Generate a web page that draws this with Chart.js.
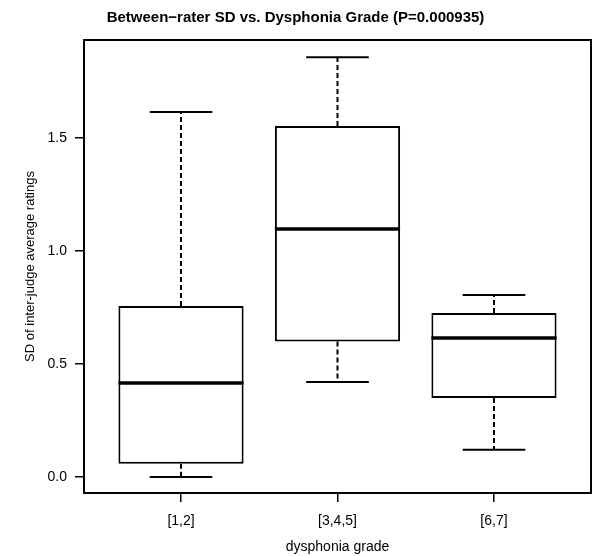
<!DOCTYPE html>
<html>
<head>
<meta charset="utf-8">
<script src="https://cdn.jsdelivr.net/npm/chart.js@4/dist/chart.umd.min.js"></script>
<style>
  html, body { margin: 0; padding: 0; background: #fff; }
  canvas { display: block; }
</style>
</head>
<body>
<canvas id="boxChart" width="592" height="556"></canvas>
<script>
// dữ liệu (5 số của mỗi box)
var categories = ['[1,2]', '[3,4,5]', '[6,7]'];
var xPositions = [1, 2, 3];
var whiskerLow = [0.00, 0.42, 0.12];
var q1 = [0.058, 0.60, 0.35];
var median = [0.416, 1.097, 0.615];
var q3 = [0.757, 1.553, 0.726];
var whiskerHigh = [1.615, 1.858, 0.805];
var yTicks = [0, 0.5, 1.0, 1.5];

Chart.defaults.font.family = '"Liberation Sans", Arial, sans-serif';
Chart.defaults.color = '#000';

// vẽ median, râu, chặn râu và khung
var boxplotPlugin = {
    id: 'boxplot',
    afterDatasetsDraw(chart) {
        const ctx = chart.ctx;
        const y = chart.scales.y;
        const bars = chart.getDatasetMeta(0).data;
        ctx.save();
        ctx.strokeStyle = '#000';
        bars.forEach((bar, i) => {
            const cx = bar.x;
            const half = bar.width / 2;
            const capHalf = bar.width / 4;

            // râu (nét đứt)
            ctx.lineWidth = 2;
            ctx.setLineDash([5, 3]);
            ctx.beginPath();
            ctx.moveTo(cx, y.getPixelForValue(q3[i]));
            ctx.lineTo(cx, y.getPixelForValue(whiskerHigh[i]));
            ctx.moveTo(cx, y.getPixelForValue(q1[i]));
            ctx.lineTo(cx, y.getPixelForValue(whiskerLow[i]));
            ctx.stroke();
            ctx.setLineDash([]);

            // chặn râu
            ctx.beginPath();
            ctx.moveTo(cx - capHalf, y.getPixelForValue(whiskerHigh[i]));
            ctx.lineTo(cx + capHalf, y.getPixelForValue(whiskerHigh[i]));
            ctx.moveTo(cx - capHalf, y.getPixelForValue(whiskerLow[i]));
            ctx.lineTo(cx + capHalf, y.getPixelForValue(whiskerLow[i]));
            ctx.stroke();

            // median
            ctx.lineWidth = 3.5;
            ctx.beginPath();
            ctx.moveTo(cx - half, y.getPixelForValue(median[i]));
            ctx.lineTo(cx + half, y.getPixelForValue(median[i]));
            ctx.stroke();
        });

        // khung quanh vùng vẽ
        const a = chart.chartArea;
        ctx.lineWidth = 2;
        ctx.strokeRect(a.left, a.top, a.right - a.left, a.bottom - a.top);
        ctx.restore();
    }
};

var ctx = document.getElementById('boxChart').getContext('2d');
var boxChart = new Chart(ctx, {
    type: 'bar',
    data: {
        datasets: [{
            data: xPositions.map((x, i) => ({ x: x, y: [q1[i], q3[i]] })),
            backgroundColor: '#fff',
            borderColor: '#000',
            borderWidth: 2,
            borderSkipped: false,
            barPercentage: 0.8,
            categoryPercentage: 1.0
        }]
    },
    options: {
        responsive: false,
        animation: false,
        layout: { padding: { left: 0, right: 1, top: 0, bottom: 0 } },
        plugins: {
            legend: { display: false },
            tooltip: { enabled: false },
            title: {
                display: true,
                text: 'Between\u2212rater SD vs. Dysphonia Grade (P=0.000935)',
                font: { size: 15, weight: 'bold' },
                padding: { top: 9, bottom: 13 }
            }
        },
        scales: {
            x: {
                type: 'linear',
                min: 0.38,
                max: 3.62,
                offset: false,
                afterBuildTicks: s => { s.ticks = xPositions.map(v => ({ value: v })); },
                afterFit: s => { s.height = 63; },
                border: { display: false },
                grid: { offset: false, drawOnChartArea: false, drawTicks: true, tickLength: 9, color: '#000', lineWidth: 1.5 },
                ticks: {
                    autoSkip: false,
                    maxRotation: 0,
                    padding: 11,
                    font: { size: 14 },
                    callback: v => categories[xPositions.indexOf(v)]
                },
                title: {
                    display: true,
                    text: 'dysphonia grade',
                    font: { size: 14 },
                    padding: { top: 0, bottom: 0 }
                }
            },
            y: {
                min: -0.071,
                max: 1.934,
                afterBuildTicks: s => { s.ticks = yTicks.map(v => ({ value: v })); },
                afterFit: s => { s.width = 84; },
                border: { display: false },
                grid: { drawOnChartArea: false, drawTicks: true, tickLength: 9, color: '#000', lineWidth: 1.5 },
                ticks: {
                    padding: 8,
                    font: { size: 14 },
                    callback: v => v.toFixed(1)
                },
                title: {
                    display: true,
                    text: 'SD of inter-judge average ratings',
                    font: { size: 13 },
                    padding: { top: 23, bottom: 0 }
                }
            }
        }
    },
    plugins: [boxplotPlugin]
});
</script>
</body>
</html>
